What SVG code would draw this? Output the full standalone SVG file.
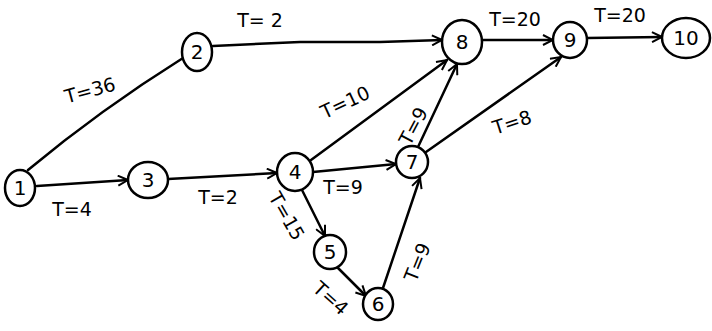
<svg xmlns="http://www.w3.org/2000/svg" width="712" height="331" viewBox="0 0 712 331">
<defs>
<marker id="ah" viewBox="0 0 12 12" refX="11" refY="6" markerWidth="12" markerHeight="12" markerUnits="userSpaceOnUse" orient="auto">
<path d="M1,1 L11,6 L1,11" fill="none" stroke="#000" stroke-width="2"/>
</marker>
<style>
.n ellipse{fill:#fff;stroke:#000;stroke-width:2.5}
.n text{font-family:"DejaVu Sans",sans-serif;font-size:20px;text-anchor:middle;dominant-baseline:central;fill:#000}
.e path{fill:none;stroke:#000;stroke-width:2.5;stroke-linecap:round}
.e .a{marker-end:url(#ah)}
.l{font-family:"DejaVu Sans",sans-serif;font-size:19px;fill:#000;text-anchor:middle;dominant-baseline:central}
</style>
</defs>
<rect width="712" height="331" fill="#fff"/>
<g class="e" id="edges">
<path d="M28,170 Q100,110 183,58"/>
<path class="a" d="M213,46 L300,42 L380,42 L442,40"/>
<path class="a" d="M37,186 L128,180"/>
<path class="a" d="M168,179 L277,173"/>
<path class="a" d="M311,160 L447,60"/>
<path class="a" d="M313,172 L396,164"/>
<path class="a" d="M302,190 L325,236"/>
<path class="a" d="M338,268 L366,296"/>
<path class="a" d="M383,288 L420,178"/>
<path class="a" d="M418,147 L457,64"/>
<path class="a" d="M426,152 L561,57"/>
<path class="a" d="M481,40 L553,40"/>
<path class="a" d="M587,38 L662,37"/>
<text class="l" x="90" y="90" transform="rotate(-15 90 90)">T=36</text>
<text class="l" x="260" y="20">T= 2</text>
<text class="l" x="515" y="19">T=20</text>
<text class="l" x="620" y="15">T=20</text>
<text class="l" x="345" y="102" transform="rotate(-25 345 102)">T=10</text>
<text class="l" x="413" y="126" transform="rotate(-62 413 126)">T=9</text>
<text class="l" x="512" y="122" transform="rotate(-18 512 122)">T=8</text>
<text class="l" x="72" y="209">T=4</text>
<text class="l" x="218" y="197">T=2</text>
<text class="l" x="343" y="187">T=9</text>
<text class="l" x="287" y="216" transform="rotate(60 287 216)">T=15</text>
<text class="l" x="331" y="298" transform="rotate(42 331 298)">T=4</text>
<text class="l" x="417" y="262" transform="rotate(-68 417 262)">T=9</text>
</g>
<g class="n" id="n1"><ellipse cx="20" cy="188" rx="15" ry="18"/><text x="20" y="188">1</text></g>
<g class="n" id="n2"><ellipse cx="197" cy="52" rx="15" ry="19"/><text x="197" y="52">2</text></g>
<g class="n" id="n3"><ellipse cx="148" cy="180" rx="20" ry="18"/><text x="148" y="180">3</text></g>
<g class="n" id="n4"><ellipse cx="295" cy="172" rx="18" ry="19"/><text x="295" y="172">4</text></g>
<g class="n" id="n5"><ellipse cx="330" cy="252" rx="16" ry="17"/><text x="330" y="252">5</text></g>
<g class="n" id="n6"><ellipse cx="378" cy="304" rx="15" ry="16"/><text x="378" y="304">6</text></g>
<g class="n" id="n7"><ellipse cx="412" cy="162" rx="16" ry="16"/><text x="412" y="162">7</text></g>
<g class="n" id="n8"><ellipse cx="462" cy="42" rx="20" ry="22"/><text x="462" y="42">8</text></g>
<g class="n" id="n9"><ellipse cx="570" cy="40" rx="17" ry="18"/><text x="570" y="40">9</text></g>
<g class="n" id="n10"><ellipse cx="686" cy="38" rx="24" ry="20"/><text x="686" y="38">10</text></g>
</svg>
